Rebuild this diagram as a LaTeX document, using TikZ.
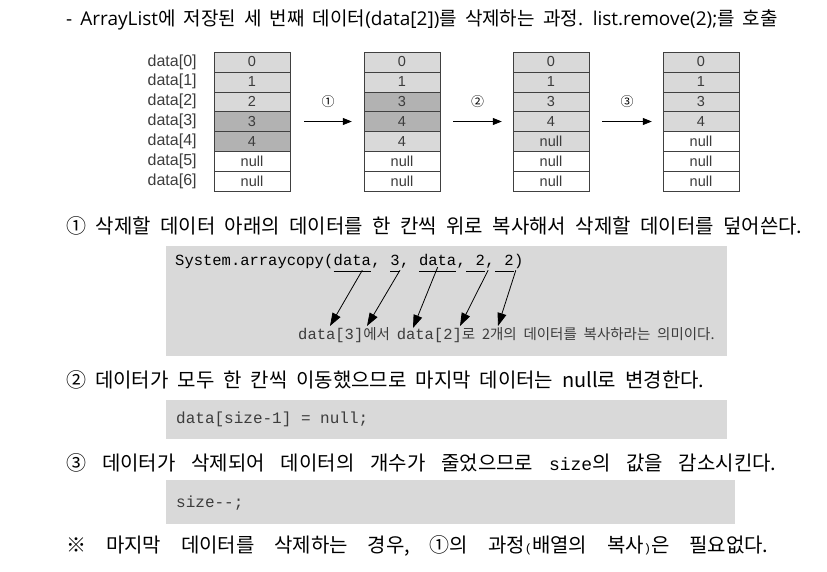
\documentclass[tikz,border=0pt]{standalone}
\usepackage{fontspec}
\setmainfont{Liberation Sans}
\setmonofont{Liberation Mono}
\newfontfamily\kr{Noto Sans CJK KR}
\newfontfamily\lat{Open Sans}
\usetikzlibrary{positioning,arrows.meta}
\definecolor{cellgray}{RGB}{217,217,217}
\definecolor{markgray}{RGB}{178,178,178}
\definecolor{boxgray}{RGB}{217,217,217}
\definecolor{inkgray}{RGB}{60,60,60}
\tikzset{
  cell/.style={draw=black!75, minimum width=76pt, minimum height=19.86pt, inner sep=0pt,
    text=inkgray, font=\fontsize{14.5}{14.5}\selectfont},
  idx/.style={inner sep=0pt, text=inkgray, font=\fontsize{16}{16}\selectfont},
  move/.style={-{Triangle[length=9pt,width=7pt]}, line width=0.8pt},
  stepno/.style={inner sep=0pt, font=\kr\fontsize{13}{13}\selectfont},
  line/.style={anchor=west, inner sep=0pt, font=\kr\fontsize{20}{20}\selectfont},
  codebox/.style={fill=boxgray, anchor=north west, inner sep=0pt},
  code/.style={anchor=base west, inner sep=0pt, text height=11pt, text depth=6pt,
    font=\ttfamily\fontsize{15.5}{15.5}\selectfont},
  uline/.style={line width=0.6pt},
  pointer/.style={-{Triangle[length=13pt,width=9pt]}, line width=0.8pt}
}
\begin{document}
\begin{tikzpicture}[x=1pt,y=-1pt]
\useasboundingbox (0,0) rectangle (827,571);
% title
\node[anchor=west, inner sep=0pt, font=\kr\fontsize{19}{19}\selectfont] (title) at (66,20)
  {\spaceskip=8.1pt\relax{\lat - ArrayList}에 저장된 세 번째 데이터{\lat(data[2])}를 삭제하는 과정{\lat. list.remove(2);}를 호출};
% the four states of the array
\foreach \v/\c [count=\i from 0] in {0/cellgray,1/cellgray,2/cellgray,3/markgray,4/markgray,null/white,null/white}
  \node[cell, fill=\c] (a-\i) at (252,{61.93+19.86*\i}) {\v};
\foreach \v/\c [count=\i from 0] in {0/cellgray,1/cellgray,3/markgray,4/markgray,4/cellgray,null/white,null/white}
  \node[cell, fill=\c] (b-\i) at (402,{61.93+19.86*\i}) {\v};
\foreach \v/\c [count=\i from 0] in {0/cellgray,1/cellgray,3/cellgray,4/cellgray,null/cellgray,null/white,null/white}
  \node[cell, fill=\c] (c-\i) at (551,{61.93+19.86*\i}) {\v};
\foreach \v/\c [count=\i from 0] in {0/cellgray,1/cellgray,3/cellgray,4/cellgray,null/white,null/white,null/white}
  \node[cell, fill=\c] (d-\i) at (701,{61.93+19.86*\i}) {\v};
\foreach \i in {0,...,6}
  \node[idx, left=17pt of a-\i] {data[\i]};
\draw[move] ([xshift=14pt]a-3.east) -- ([xshift=-12pt]b-3.west) node[stepno, midway, above=13pt] {①};
\draw[move] ([xshift=13pt]b-3.east) -- ([xshift=-11pt]c-3.west) node[stepno, midway, above=13pt] {②};
\draw[move] ([xshift=13pt]c-3.east) -- ([xshift=-11pt]d-3.west) node[stepno, midway, above=13pt] {③};
% step 1
\node[line] (s1) at (66,226) {\spaceskip=9.4pt\relax ① 삭제할 데이터 아래의 데이터를 한 칸씩 위로 복사해서 삭제할 데이터를 덮어쓴다.};
\node[codebox, minimum width=561pt, minimum height=110pt] (box1) at (166,246) {};
\node[code] (cs) at (175,265) {System.arraycopy(};
\node[code] (u1) at (cs.base east) {data};
\node[code] (k1) at (u1.base east) {,\ \mbox{}};
\node[code] (u2) at (k1.base east) {3};
\node[code] (k2) at (u2.base east) {,\ \mbox{}};
\node[code] (u3) at (k2.base east) {data};
\node[code] (k3) at (u3.base east) {,};
\node[code] (u4) at (k3.base east) {\ 2};
\node[code] (k4) at (u4.base east) {,};
\node[code] (u5) at (k4.base east) {\ 2};
\node[code] (k5) at (u5.base east) {)};
\foreach \k in {1,...,5}
  \draw[uline] (u\k.south west) -- (u\k.south east);
\coordinate (t1) at (330,326);
\coordinate (t2) at (367,326);
\coordinate (t3) at (413,328);
\coordinate (t4) at (460,326);
\coordinate (t5) at (498,326);
\draw[pointer] ([xshift=10pt,yshift=1pt]u1.south) -- (t1);
\draw[pointer] ([xshift=5pt,yshift=1pt]u2.south) -- (t2);
\draw[pointer] ([yshift=4pt]u3.south) -- (t3);
\draw[pointer] ([xshift=3pt,yshift=1pt]u4.south east) -- (t4);
\draw[pointer] ([xshift=2pt,yshift=1pt]u5.south east) -- (t5);
\node[anchor=base west, inner sep=0pt, text=inkgray, font=\kr\fontsize{14.5}{14.5}\selectfont] (memo) at (298,339)
  {\spaceskip=6.8pt\relax{\ttfamily\fontsize{15.5}{15.5}\selectfont data[3]}에서 {\ttfamily\fontsize{15.5}{15.5}\selectfont data[2]}로 2개의 데이터를 복사하라는 의미이다.};
% step 2
\node[line] (s2) at (66,380) {\spaceskip=8.9pt\relax ② 데이터가 모두 한 칸씩 이동했으므로 마지막 데이터는 null로 변경한다.};
\node[codebox, minimum width=561pt, minimum height=39pt] (box2) at (166,400) {};
\node[code, text=inkgray, font=\ttfamily\fontsize{16}{16}\selectfont] (nl) at (176,423) {data[size-1] = null;};
% step 3
\node[line] (s3) at (66,463) {\spaceskip=15.8pt\relax ③ 데이터가 삭제되어 데이터의 개수가 줄었으므로 {\ttfamily\fontsize{18}{18}\selectfont size}의 값을 감소시킨다.};
\node[codebox, minimum width=569pt, minimum height=44pt] (box3) at (166,480) {};
\node[code, text=inkgray, font=\ttfamily\fontsize{16}{16}\selectfont] (dec) at (176,507) {size--;};
% note
\node[line] (note) at (66,546) {\spaceskip=19.8pt\relax ※ 마지막 데이터를 삭제하는 경우, ①의 과정{\ttfamily\fontsize{12}{12}\selectfont(}배열의 복사{\ttfamily\fontsize{12}{12}\selectfont)}은 필요없다.};
\end{tikzpicture}
\end{document}
